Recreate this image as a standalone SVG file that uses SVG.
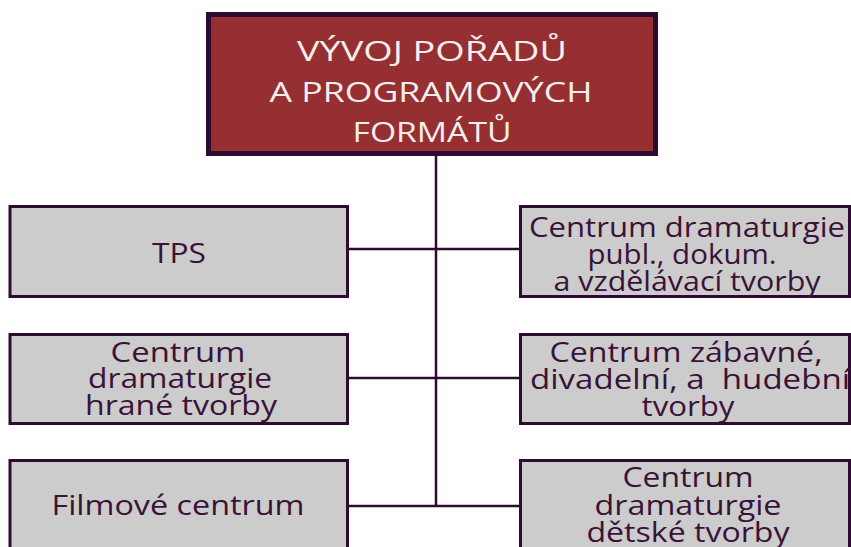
<svg xmlns="http://www.w3.org/2000/svg" width="851" height="547" viewBox="0 0 851 547">
<style>
.box{fill:#cccccc;stroke:#2e0b31;stroke-width:3}
.top{fill:#962f31;stroke:#2e0b31;stroke-width:5}
.t{font-family:"Open Sans","DejaVu Sans",sans-serif;font-size:27px;fill:#3a1238;text-anchor:middle}
.tw{font-family:"Open Sans","DejaVu Sans",sans-serif;font-size:27px;fill:#f4eeee;text-anchor:middle}
.c{stroke:#2e0b31;stroke-width:2.5;fill:none}
</style>
<rect width="851" height="547" fill="#ffffff"/>
<g id="connectors">
<line class="c" x1="436" y1="156" x2="436" y2="506"/>
<line class="c" x1="348" y1="249" x2="521" y2="249"/>
<line class="c" x1="348" y1="378" x2="521" y2="378"/>
<line class="c" x1="348" y1="506" x2="521" y2="506"/>
</g>
<g id="root">
<rect class="top" x="208.5" y="14.5" width="447" height="139"/>
<text class="tw" x="432" y="61" textLength="270" lengthAdjust="spacingAndGlyphs">VÝVOJ POŘADŮ</text>
<text class="tw" x="431" y="102" textLength="323" lengthAdjust="spacingAndGlyphs">A PROGRAMOVÝCH</text>
<text class="tw" x="432" y="142" textLength="159" lengthAdjust="spacingAndGlyphs">FORMÁTŮ</text>
</g>
<g id="tps">
<rect class="box" x="10" y="206.5" width="337.5" height="90"/>
<text class="t" x="179" y="263" textLength="54" lengthAdjust="spacingAndGlyphs">TPS</text>
</g>
<g id="hrane">
<rect class="box" x="10" y="334.5" width="337.5" height="89"/>
<text class="t" x="178" y="362" textLength="135" lengthAdjust="spacingAndGlyphs">Centrum</text>
<text class="t" x="180" y="388" textLength="184" lengthAdjust="spacingAndGlyphs">dramaturgie</text>
<text class="t" x="181" y="415" textLength="192" lengthAdjust="spacingAndGlyphs">hrané tvorby</text>
</g>
<g id="film">
<rect class="box" x="10" y="460.5" width="337.5" height="100"/>
<text class="t" x="178" y="515" textLength="253" lengthAdjust="spacingAndGlyphs">Filmové centrum</text>
</g>
<g id="publ">
<rect class="box" x="520.5" y="206.5" width="329" height="90"/>
<text class="t" x="687" y="237" textLength="316" lengthAdjust="spacingAndGlyphs">Centrum dramaturgie</text>
<text class="t" x="682" y="264" textLength="189" lengthAdjust="spacingAndGlyphs">publ., dokum.</text>
<text class="t" x="687" y="291" textLength="267" lengthAdjust="spacingAndGlyphs">a vzdělávací tvorby</text>
</g>
<g id="zabav">
<rect class="box" x="520.5" y="334.5" width="329" height="89"/>
<text class="t" x="686" y="362" textLength="273" lengthAdjust="spacingAndGlyphs">Centrum zábavné,</text>
<text class="t" x="690" y="389" textLength="320" lengthAdjust="spacingAndGlyphs" xml:space="preserve">divadelní, a  hudební</text>
<text class="t" x="688" y="416" textLength="93" lengthAdjust="spacingAndGlyphs">tvorby</text>
</g>
<g id="detske">
<rect class="box" x="520.5" y="460.5" width="329" height="100"/>
<text class="t" x="688" y="487" textLength="131" lengthAdjust="spacingAndGlyphs">Centrum</text>
<text class="t" x="688" y="515" textLength="187" lengthAdjust="spacingAndGlyphs">dramaturgie</text>
<text class="t" x="688" y="542" textLength="203" lengthAdjust="spacingAndGlyphs">dětské tvorby</text>
</g>
</svg>
